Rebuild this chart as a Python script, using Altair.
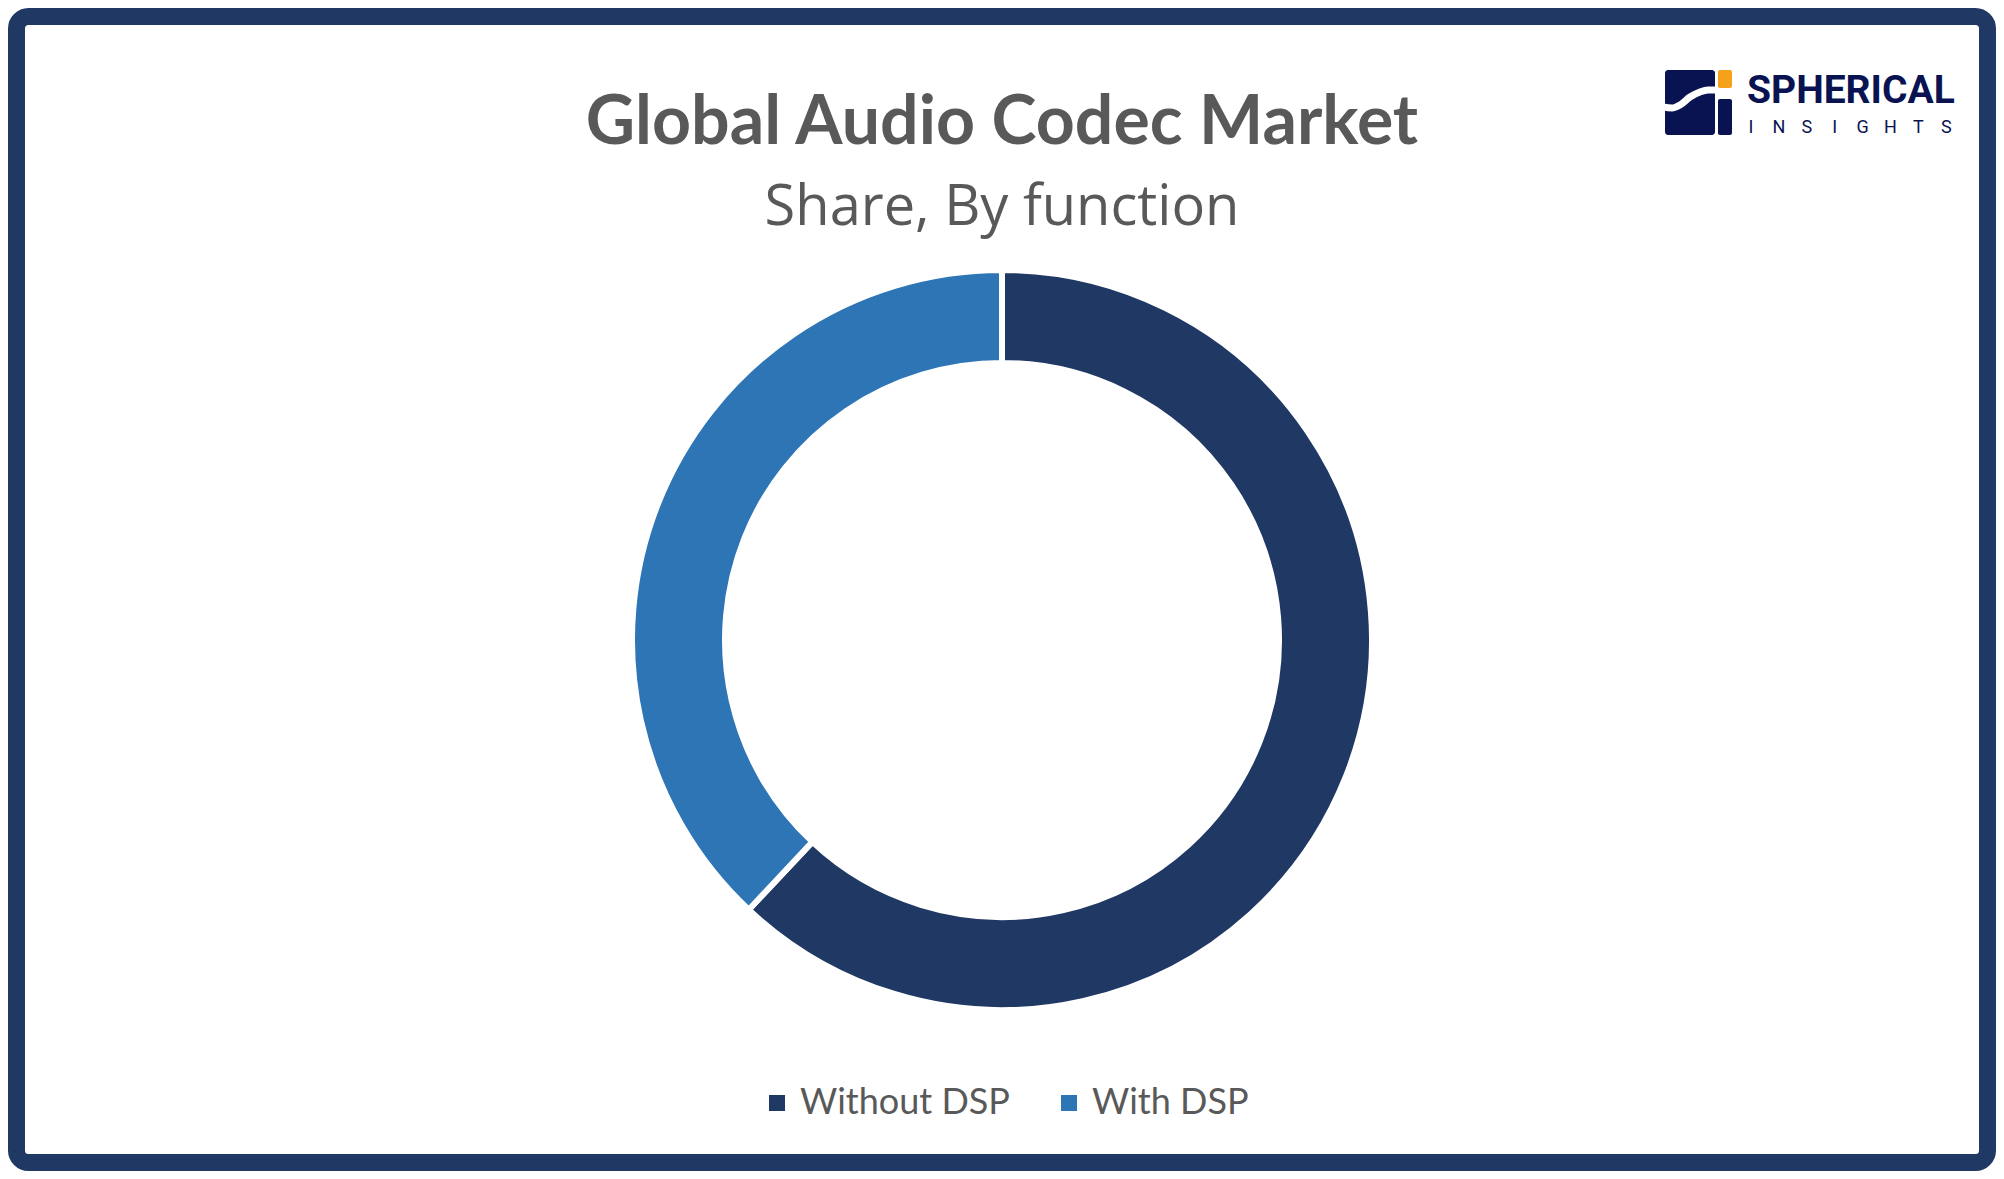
import altair as alt
import pandas as pd

# ---- data ----
categories = ["Without DSP", "With DSP"]
shares = [62, 38]
colors = ["#203864", "#2E75B6"]

title_text = "Global Audio Codec Market"
subtitle_text = "Share, By function"
logo_word = "SPHERICAL"
logo_letters = list("INSIGHTS")

W, H = 1988, 1163
CX, CY = 994, 632
FONT = "Lato"

df = pd.DataFrame({"category": categories, "share": shares, "order": list(range(len(categories)))})

frame = alt.Chart(pd.DataFrame({"a": [0]})).mark_rect(
    filled=False, stroke="#203864", strokeWidth=17, cornerRadius=12
).encode(x=alt.value(8.5), x2=alt.value(W - 8.5), y=alt.value(8.5), y2=alt.value(H - 8.5))

donut = alt.Chart(df).mark_arc(
    outerRadius=370, innerRadius=277, stroke="white", strokeWidth=6
).encode(
    theta=alt.Theta("share:Q", stack=True),
    order=alt.Order("order:Q"),
    color=alt.Color(
        "category:N",
        scale=alt.Scale(domain=categories, range=colors),
        sort=categories,
        legend=alt.Legend(
            title=None, orient="none", direction="horizontal",
            legendX=751, legendY=1077,
            symbolType="square", symbolSize=256, symbolStrokeWidth=0,
            labelFont=FONT, labelFontSize=36, labelColor="#595959",
            labelOffset=5, columnPadding=41, labelLimit=500,
        ),
    ),
    x=alt.value(CX), y=alt.value(CY),
)

title = alt.Chart(pd.DataFrame({"t": [title_text]})).mark_text(
    font=FONT, fontWeight="bold", fontSize=68, color="#595959", align="center", baseline="alphabetic"
).encode(text="t:N", x=alt.value(994), y=alt.value(136))

subtitle = alt.Chart(pd.DataFrame({"t": [subtitle_text]})).mark_text(
    font="Open Sans", fontSize=56, color="#595959", align="center", baseline="alphabetic"
).encode(text="t:N", x=alt.value(994), y=alt.value(217))

# ---- logo ----
logo_block = alt.Chart(pd.DataFrame({"a": [0]})).mark_rect(color="#0A1352", cornerRadius=3).encode(
    x=alt.value(1657), x2=alt.value(1707), y=alt.value(62), y2=alt.value(127))
logo_stem = alt.Chart(pd.DataFrame({"a": [0]})).mark_rect(color="#0A1352", cornerRadius=2).encode(
    x=alt.value(1710), x2=alt.value(1724), y=alt.value(91), y2=alt.value(127))
logo_dot = alt.Chart(pd.DataFrame({"a": [0]})).mark_rect(color="#F5A11C", cornerRadius=2).encode(
    x=alt.value(1710), x2=alt.value(1724), y=alt.value(62), y2=alt.value(80))
wave_x = [1655, 1664, 1672, 1682, 1692, 1700, 1709]
wave_y = [99, 100, 97, 89, 84, 82, 82]
logo_wave = alt.Chart(pd.DataFrame({"x": wave_x, "y": wave_y})).mark_line(
    color="white", strokeWidth=7, interpolate="monotone"
).encode(x=alt.X("x:Q", scale=None), y=alt.Y("y:Q", scale=None))
logo_text = alt.Chart(pd.DataFrame({"t": [logo_word]})).mark_text(
    font="Roboto", fontWeight="bold", fontSize=39, color="#0A1352", align="left", baseline="alphabetic"
).encode(text="t:N", x=alt.value(1739), y=alt.value(95))
letters_df = pd.DataFrame({"t": logo_letters, "i": list(range(len(logo_letters)))})
logo_letters_layer = alt.Chart(letters_df).transform_calculate(
    px="1743 + datum.i * 27.9"
).mark_text(
    font="Roboto", fontSize=18, color="#0A1352", align="center", baseline="alphabetic"
).encode(text="t:N", x=alt.X("px:Q", scale=None), y=alt.value(125))

chart = alt.layer(
    frame, donut, title, subtitle, logo_block, logo_stem, logo_dot, logo_wave, logo_text, logo_letters_layer
).properties(
    width=W, height=H, padding=0,
    autosize=alt.AutoSizeParams(type="fit", contains="padding"),
).configure_view(stroke=None).configure_axis(disable=True)

chart.save("out.html", embed_options={"renderer": "svg", "actions": False})
